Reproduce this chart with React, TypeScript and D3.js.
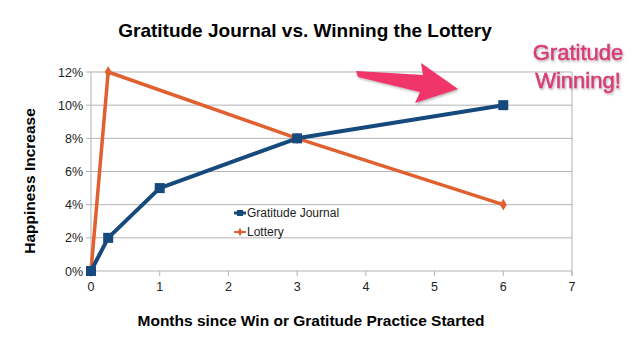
// Gratitude Journal vs. Winning the Lottery
import React from 'react';
import * as d3 from 'd3';

interface Pt {
  month: number;
  value: number;
}

const gratitudeMonths = [0, 0.25, 1, 3, 6];
const gratitudeValues = [0, 2, 5, 8, 10];
const lotteryMonths = [0, 0.25, 3, 6];
const lotteryValues = [0, 12, 8, 4];
const xTicks = [0, 1, 2, 3, 4, 5, 6, 7];
const yTicks = [0, 2, 4, 6, 8, 10, 12];

const gratitude: Pt[] = gratitudeMonths.map((m, i) => ({ month: m, value: gratitudeValues[i] }));
const lottery: Pt[] = lotteryMonths.map((m, i) => ({ month: m, value: lotteryValues[i] }));

const width = 639;
const height = 352;
const marginLeft = 91;
const marginRight = 67;
const marginTop = 72;
const marginBottom = 81;

const navy = '#174a7c';
const orange = '#e06030';
const pink = '#d63c74';
const font = '"Liberation Sans", Arial, sans-serif';

const App: React.FC = () => {
  const x = d3.scaleLinear().domain([0, 7]).range([marginLeft, width - marginRight]);
  const y = d3.scaleLinear().domain([0, 12]).range([height - marginBottom, marginTop]);

  const line = d3
    .line<Pt>()
    .x(d => x(d.month))
    .y(d => y(d.value));

  const x0 = x(0);
  const x1 = x(7);
  const y0 = y(0);
  const y1 = y(12);

  return (
    <svg
      width={width}
      height={height}
      style={{ position: 'absolute', left: 0, top: 0, background: '#fff' }}
      fontFamily={font}
    >
      <defs>
        <filter id="shadow" x="-20%" y="-20%" width="140%" height="160%">
          <feDropShadow dx="1" dy="1.5" stdDeviation="1" floodColor="#000" floodOpacity="0.3" />
        </filter>
      </defs>

      {/* title */}
      <text x={305} y={37} textAnchor="middle" fontSize={19} fontWeight="bold" fill="#000">
        Gratitude Journal vs. Winning the Lottery
      </text>

      {/* grid */}
      {yTicks.map(t => (
        <g key={'y' + t}>
          <line x1={x0 - 5} x2={x1} y1={y(t)} y2={y(t)} stroke="#b3b3b3" strokeWidth={1} />
          <text x={x0 - 8} y={y(t) + 4.5} textAnchor="end" fontSize={12.5} fill="#222">
            {t}%
          </text>
        </g>
      ))}
      <line x1={x0} x2={x0} y1={y1} y2={y0 + 5} stroke="#b3b3b3" />
      <line x1={x1} x2={x1} y1={y1} y2={y0 + 5} stroke="#b3b3b3" />
      {xTicks.map(t => (
        <g key={'x' + t}>
          <line x1={x(t)} x2={x(t)} y1={y0} y2={y0 + 5} stroke="#b3b3b3" />
          <text x={x(t)} y={y0 + 20} textAnchor="middle" fontSize={12.5} fill="#222">
            {t}
          </text>
        </g>
      ))}

      {/* axis titles */}
      <text x={311} y={326} textAnchor="middle" fontSize={15.5} fontWeight="bold" fill="#000">
        Months since Win or Gratitude Practice Started
      </text>
      <text
        transform="translate(35,181) rotate(-90)"
        textAnchor="middle"
        fontSize={15.5}
        fontWeight="bold"
        fill="#000"
      >
        Happiness Increase
      </text>

      {/* series */}
      <path d={line(lottery) || ''} fill="none" stroke={orange} strokeWidth={3.5} strokeLinejoin="round" />
      {lottery.map((d, i) => (
        <path
          key={'l' + i}
          d={d3.symbol(d3.symbolDiamond, 40)() || ''}
          transform={`translate(${x(d.month)},${y(d.value)})`}
          fill={orange}
        />
      ))}
      <path d={line(gratitude) || ''} fill="none" stroke={navy} strokeWidth={4} strokeLinejoin="round" />
      {gratitude.map((d, i) => (
        <rect key={'g' + i} x={x(d.month) - 5} y={y(d.value) - 5} width={10} height={10} fill={navy} />
      ))}

      {/* legend */}
      <g fontSize={12} fill="#222">
        <line x1={234} x2={246} y1={213} y2={213} stroke={navy} strokeWidth={3} />
        <rect x={237} y={210} width={6} height={6} fill={navy} />
        <text x={247} y={217}>Gratitude Journal</text>
        <line x1={234} x2={246} y1={232} y2={232} stroke={orange} strokeWidth={2} />
        <path d={d3.symbol(d3.symbolDiamond, 20)() || ''} transform="translate(240,232)" fill={orange} />
        <text x={247} y={236}>Lottery</text>
      </g>

      {/* annotation */}
      <polygon
        points="356,71 423,75 421,63 458,89 415,103 420,92 358,77"
        fill="#f0346a"
        filter="url(#shadow)"
      />
      <g fontSize={22} fill={pink} stroke={pink} strokeWidth={0.5} textAnchor="middle" filter="url(#shadow)">
        <text x={578} y={60}>Gratitude</text>
        <text x={578} y={88}>Winning!</text>
      </g>
    </svg>
  );
};

export default App;
